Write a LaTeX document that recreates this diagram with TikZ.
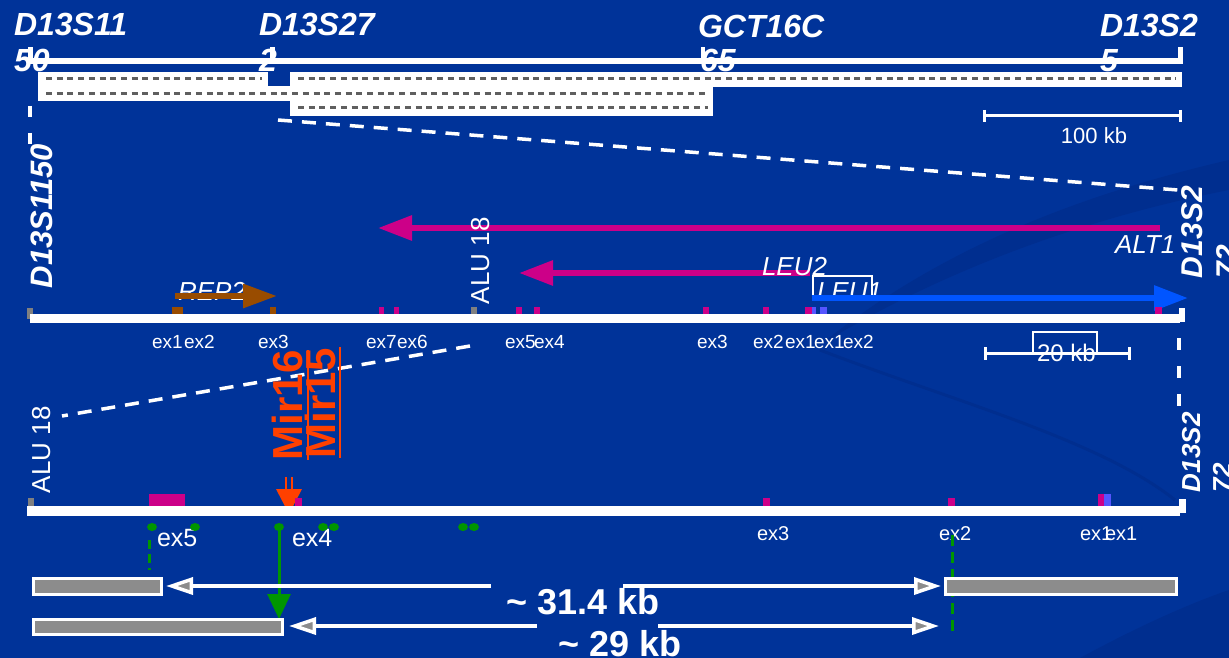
\documentclass[tikz,border=0pt]{standalone}
\usepackage{fontspec}
\setmainfont{Liberation Sans}
\usetikzlibrary{arrows.meta}
\definecolor{bg}{RGB}{0,51,153}
\definecolor{bgd}{RGB}{0,46,143}
\definecolor{mag}{RGB}{204,0,136}
\definecolor{lblue}{RGB}{0,85,255}
\definecolor{violetex}{RGB}{85,85,255}
\definecolor{brn}{RGB}{153,76,0}
\definecolor{alugray}{RGB}{128,128,128}
\definecolor{mir}{RGB}{255,64,0}
\definecolor{grn}{RGB}{0,150,0}
\definecolor{hatch}{RGB}{95,95,95}
\definecolor{boxgray}{RGB}{140,140,140}
\newcommand\fsz[2]{\fontsize{#1}{#2}\selectfont}
\begin{document}
\begin{tikzpicture}[x=1pt,y=-1pt,
  txt/.style={inner sep=0pt, outer sep=0pt, text=white},
  marker/.style={txt, font=\fsz{32}{36}\bfseries\itshape, anchor=base west},
  exlbl/.style={txt, font=\fsz{19}{22}, anchor=base west},
  exlblb/.style={txt, font=\fsz{25}{28}, anchor=base west},
  genelbl/.style={txt, font=\fsz{26}{30}\itshape, anchor=base west},
  zoomline/.style={white, line width=3.5pt, dash pattern=on 14pt off 10pt},
  hatchline/.style={hatch, line width=3pt, dash pattern=on 6pt off 4.7pt},
  genearrow/.style={line width=6pt, -{Triangle[length=34pt,width=24pt]}},
  sizearrow/.style={white, line width=3.5pt, -{Triangle[length=27pt,width=17pt,fill=boxgray]}},
  clonebox/.style={draw=white, line width=3.5pt, fill=boxgray},
]
\useasboundingbox (0,0) rectangle (1229,658);
\fill[bg] (0,0) rectangle (1229,658);
% subtle background swirls
\fill[bgd] (820,345) .. controls (950,240) and (1100,190) .. (1229,160) -- (1229,190) .. controls (1100,215) and (950,265) .. (820,345) -- cycle;
\draw[bgd, line width=3pt] (820,350) .. controls (950,400) and (1100,440) .. (1175,500);
\fill[bgd] (1080,658) .. controls (1150,620) and (1200,600) .. (1229,590) -- (1229,658) -- cycle;

% ---------- top map ----------
\node[marker] (m1) at (14,36) {D13S11};
\node[marker] (m2) at (259,36) {D13S27};
\node[marker] (m3) at (698,38) {GCT16C};
\node[marker] (m4) at (1100,37) {D13S2};
\node[marker] (m1b) at (14,72) {50};
\node[marker] (m2b) at (259,72) {2};
\node[marker] (m3b) at (700,72) {65};
\node[marker] (m4b) at (1100,72) {5};
\fill[white] (30,58) rectangle (1183,64);
\fill[white] (28,47) rectangle (33,64);
\fill[white] (270,47) rectangle (275,64);
\fill[white] (701,47) rectangle (705,58);
\fill[white] (1178,47) rectangle (1183,64);

% clones
\fill[white] (38,72) rectangle (268,86);
\fill[white] (38,86) rectangle (713,101);
\fill[white] (290,72) rectangle (1182,87);
\fill[white] (290,101) rectangle (713,116);
\draw[hatchline] (46,79) -- (262,79);
\draw[hatchline] (46,94) -- (708,94);
\draw[hatchline] (298,79) -- (1176,79);
\draw[hatchline] (298,108) -- (708,108);

% 100 kb scale
\coordinate (sb1a) at (983,116); \coordinate (sb1b) at (1182,116);
\draw[white, line width=3pt] (sb1a) -- (sb1b);
\draw[white, line width=3pt] (984.5,110) -- (984.5,122) (1180.5,110) -- (1180.5,122);
\node[txt, font=\fsz{22}{26}, anchor=base] (kb100) at (1094,144) {100 kb};

% zoom lines
\coordinate (zl1a) at (30,106); \coordinate (zl1b) at (30,152);
\draw[white, line width=3.5pt, dash pattern=on 11pt off 16pt] (zl1a) -- (zl1b);
\coordinate (zl2a) at (278,120); \coordinate (zl2b) at (1178,190);
\draw[zoomline] (zl2a) -- (zl2b);

% ---------- middle map ----------
\node[txt, font=\fsz{31}{34}\bfseries\itshape, rotate=90, anchor=north west] (lm) at (31,288) {D13S1150};
\node[txt, font=\fsz{30}{35}\bfseries\itshape, rotate=90, anchor=north west, align=left] (rm) at (1182,278) {D13S2\\72};

\coordinate (altS) at (1160,228); \coordinate (altE) at (378,228);
\draw[genearrow, mag] (altS) -- (altE);
\node[genelbl] (alt1) at (1115,253) {ALT1};

\coordinate (leu2S) at (810,273); \coordinate (leu2E) at (519,273);
\draw[genearrow, mag] (leu2S) -- (leu2E);
\node[genelbl] (leu2) at (762,275) {LEU2};

\node[genelbl] (leu1) at (817,300) {LEU1};
\draw[white, line width=2.5pt] (813,276) rectangle (872,296);
\coordinate (leu1S) at (812,298); \coordinate (leu1E) at (1188,298);
\draw[genearrow, lblue] (leu1S) -- (leu1E);

\node[genelbl] (rep2) at (178,300) {REP2};
\coordinate (rep2S) at (175,296); \coordinate (rep2E) at (277,296);
\draw[line width=6pt, brn, -{Triangle[length=34pt,width=23pt]}] (rep2S) -- (rep2E);

\node[txt, font=\fsz{26}{30}, rotate=90, anchor=north west] (alu1) at (471,304) {ALU 18};

% middle exon marks
\fill[alugray] (27,308) rectangle (33,319);
\fill[brn] (172,307) rectangle (183,314);
\fill[brn] (270,307) rectangle (276,314);
\fill[mag] (379,307) rectangle (384,314);
\fill[mag] (394,307) rectangle (399,314);
\fill[alugray] (471,307) rectangle (477,314);
\fill[mag] (516,307) rectangle (522,314);
\fill[mag] (534,307) rectangle (540,314);
\fill[mag] (703,307) rectangle (709,314);
\fill[mag] (763,307) rectangle (769,314);
\fill[mag] (805,307) rectangle (812,314);
\fill[violetex] (812,307) rectangle (816,314);
\fill[violetex] (820,307) rectangle (827,314);
\fill[mag] (1155,307) rectangle (1162,314);
\fill[white] (30,314) rectangle (1180,323);
\fill[white] (1179,308) rectangle (1185,322);

\node[exlbl] (e1) at (152,348) {ex1};
\node[exlbl] (e2) at (184,348) {ex2};
\node[exlbl] (e3) at (258,348) {ex3};
\node[exlbl] (e7) at (366,348) {ex7};
\node[exlbl] (e6) at (397,348) {ex6};
\node[exlbl] (e5) at (505,348) {ex5};
\node[exlbl] (e4) at (534,348) {ex4};
\node[exlbl] (f3) at (697,348) {ex3};
\node[exlbl] (f2) at (753,348) {ex2};
\node[exlbl] (f1) at (785,348) {ex1};
\node[exlbl] (g1) at (814,348) {ex1};
\node[exlbl] (g2) at (843,348) {ex2};

% 20 kb scale
\draw[white, line width=2.5pt] (1033,332) rectangle (1097,353);
\coordinate (sb2a) at (984,353); \coordinate (sb2b) at (1131,353);
\draw[white, line width=3pt] (sb2a) -- (sb2b);
\draw[white, line width=3pt] (985.5,347) -- (985.5,360) (1129.5,347) -- (1129.5,360);
\node[txt, font=\fsz{24}{28}, anchor=base west] (kb20) at (1037,361) {20 kb};

% zoom lines middle -> bottom
\coordinate (zl3a) at (1179,338); \coordinate (zl3b) at (1179,412);
\draw[white, line width=3.5pt, dash pattern=on 12pt off 16pt] (zl3a) -- (zl3b);
\coordinate (zl4a) at (470,346); \coordinate (zl4b) at (62,416);
\draw[zoomline] (zl4a) -- (zl4b);

% ---------- bottom map ----------
\node[txt, font=\fsz{26}{31}\bfseries\itshape, rotate=90, anchor=north west, align=left] (rb) at (1182,492) {D13S2\\72};
\node[txt, font=\fsz{26}{30}, rotate=90, anchor=north west] (alu2) at (32,493) {ALU 18};

\node[txt, text=mir, font=\fsz{42}{46}\bfseries, rotate=90, anchor=north west] (mir16) at (272,460) {Mir16};
\node[txt, text=mir, font=\fsz{42}{46}\bfseries, rotate=90, anchor=north west] (mir15) at (305,458) {Mir15};
\draw[mir, line width=2pt] (308,350) -- (308,460);
\draw[mir, line width=2pt] (340,347) -- (340,458);
\draw[mir, line width=2pt] (286,477) -- (286,491) (292,477) -- (292,491);
\fill[mir] (276,489) -- (302,489) -- (289,514) -- cycle;

\fill[alugray] (28,498) rectangle (34,506);
\fill[mag] (149,494) rectangle (185,506);
\fill[mag] (295,498) rectangle (302,506);
\fill[mag] (763,498) rectangle (770,506);
\fill[mag] (948,498) rectangle (955,506);
\fill[mag] (1098,494) rectangle (1104,506);
\fill[violetex] (1104,494) rectangle (1111,506);
\fill[white] (27,506) rectangle (1180,516);
\fill[white] (1179,499) rectangle (1186,513);

\node[exlblb] (b5) at (157,546) {ex5};
\node[exlblb] (b4) at (292,546) {ex4};
\node[exlbl, font=\fsz{20}{22}] (b3) at (757,540) {ex3};
\node[exlbl, font=\fsz{20}{22}] (b2) at (939,540) {ex2};
\node[exlbl, font=\fsz{20}{22}] (b1) at (1080,540) {ex1};
\node[exlbl, font=\fsz{20}{22}] (b1b) at (1105,540) {ex1};

% green markers
\foreach \gx in {152,195,279,323,334,463,474}
  \fill[grn] (\gx,527) ellipse (5pt and 4pt);
\coordinate (gd1a) at (149,540); \coordinate (gd1b) at (149,570);
\draw[grn, line width=3pt, dash pattern=on 9pt off 5pt] (gd1a) -- (gd1b);
\coordinate (gaS) at (279,527); \coordinate (gaE) at (279,619);
\draw[grn, line width=3pt, -{Triangle[length=25pt,width=23pt]}] (gaS) -- (gaE);
\coordinate (gd2a) at (952,535); \coordinate (gd2b) at (952,633);
\draw[grn, line width=3pt, dash pattern=on 11pt off 6pt] (gd2a) -- (gd2b);

% clones bottom
\draw[clonebox] (33.5,578.5) rectangle (161.5,594.5);
\draw[clonebox] (33.5,619.5) rectangle (282.5,634.5);
\draw[clonebox] (945.5,578.5) rectangle (1176.5,594.5);

% size arrows
\coordinate (a1S) at (491,586); \coordinate (a1E) at (166,586);
\coordinate (a2S) at (623,586); \coordinate (a2E) at (941,586);
\coordinate (a3S) at (537,626); \coordinate (a3E) at (289,626);
\coordinate (a4S) at (658,626); \coordinate (a4E) at (939,626);
\draw[sizearrow] (a1S) -- (a1E);
\draw[sizearrow] (a2S) -- (a2E);
\draw[sizearrow] (a3S) -- (a3E);
\draw[sizearrow] (a4S) -- (a4E);
\node[txt, font=\fsz{36}{40}\bfseries, anchor=base] (d1) at (583,614) {\textasciitilde{} 31.4 kb};
\node[txt, font=\fsz{36}{40}\bfseries, anchor=base] (d2) at (620,656) {\textasciitilde{} 29 kb};
\end{tikzpicture}
\end{document}
